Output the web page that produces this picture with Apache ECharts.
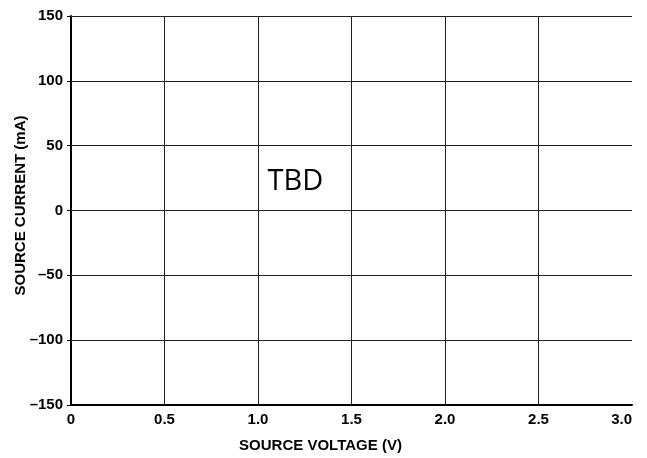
<!DOCTYPE html>
<html>
<head>
<meta charset="utf-8">
<script src="https://cdn.jsdelivr.net/npm/echarts@6/dist/echarts.min.js"></script>
<style>html,body{margin:0;padding:0;background:#fff}#c{width:647px;height:458px}</style>
</head>
<body>
<div id="c"></div>
<script>
const xTitle = 'SOURCE VOLTAGE (V)';
const yTitle = 'SOURCE CURRENT (mA)';
const xMin = 0, xMax = 3, xStep = 0.5;
const yMin = -150, yMax = 150, yStep = 50;
const noteText = ['TBD'];
const notePos = [[1.2, 22]];

const chart = echarts.init(document.getElementById('c'), null, {renderer: 'canvas'});
const font = 'Liberation Sans, Arial, Helvetica, sans-serif';
chart.setOption({
  animation: false,
  grid: {left: 71, right: 15, top: 16, bottom: 53, containLabel: false, outerBoundsMode: 'none'},
  xAxis: {
    type: 'value', min: xMin, max: xMax, interval: xStep,
    name: xTitle, nameLocation: 'middle', nameGap: 33, nameMoveOverlap: false,
    nameTextStyle: {fontFamily: font, fontWeight: 'bold', fontSize: 15, color: '#000', padding: [0, 62, 0, 0]},
    axisLine: {show: true, onZero: false, lineStyle: {color: '#000', width: 2}},
    axisTick: {show: false},
    axisLabel: {
      margin: 7, fontFamily: font, fontWeight: 'bold', fontSize: 15, color: '#000',
      alignMaxLabel: 'right',
      formatter: v => v === 0 ? '0' : v.toFixed(1)
    },
    splitLine: {show: true, showMinLine: false, showMaxLine: false, lineStyle: {color: '#222', width: 1}}
  },
  yAxis: {
    type: 'value', min: yMin, max: yMax, interval: yStep,
    name: yTitle, nameLocation: 'middle', nameGap: 43, nameMoveOverlap: false,
    nameTextStyle: {fontFamily: font, fontWeight: 'bold', fontSize: 15, color: '#000', padding: [0, 0, 0, 10]},
    axisLine: {show: true, onZero: false, lineStyle: {color: '#000', width: 2}},
    axisTick: {show: true, inside: false, length: 4, lineStyle: {color: '#000', width: 1}},
    axisLabel: {
      margin: 8, fontFamily: font, fontWeight: 'bold', fontSize: 15, color: '#000',
      formatter: v => v < 0 ? '\u2013' + Math.abs(v) : String(v)
    },
    splitLine: {show: true, showMinLine: false, lineStyle: {color: '#222', width: 1}}
  },
  series: [{
    type: 'scatter',
    symbolSize: 0,
    itemStyle: {opacity: 1},
    data: notePos.map((p, i) => ({value: p, name: noteText[i]})),
    label: {
      show: true, position: 'inside', formatter: p => p.name,
      fontFamily: 'Open Sans, sans-serif', fontSize: 29, color: '#000',
      textBorderWidth: 0, opacity: 1
    },
    silent: true
  }]
});
</script>
</body>
</html>
